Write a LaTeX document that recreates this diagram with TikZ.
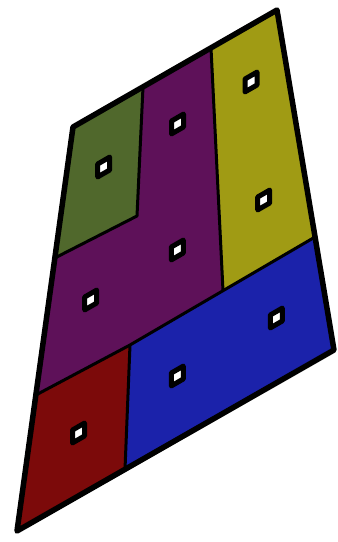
\documentclass[tikz,border=0pt]{standalone}
\definecolor{cgreen}{RGB}{80,104,44}
\definecolor{cpurple}{RGB}{94,17,89}
\definecolor{cyellow}{RGB}{160,155,20}
\definecolor{cblue}{RGB}{27,34,170}
\definecolor{cred}{RGB}{124,10,10}
\tikzset{
  region/.style={line width=3pt, line join=round, draw=black},
  border/.style={line width=5.5pt, line join=round, draw=black},
  marker/.style={line width=5pt, line join=round, draw=black, fill=white},
}
\newcommand{\mymarker}[1]{%
  \draw[marker] ($(#1)+(-6.0,-3.0)$) -- ($(#1)+(6.0,-9.9)$) -- ($(#1)+(6.0,3.0)$) -- ($(#1)+(-6.0,9.9)$) -- cycle;}
\usetikzlibrary{calc}
\begin{document}
\begin{tikzpicture}[x=1pt,y=-1pt]
\useasboundingbox (0,0) rectangle (338,542);
\coordinate (A) at (73,127);
\coordinate (B) at (277,10);
\coordinate (C) at (334,350);
\coordinate (D) at (17,531);
\coordinate (P1) at (143,87);
\coordinate (P2) at (137,216);
\coordinate (P3) at (54.8,258);
\coordinate (P4) at (211,48);
\coordinate (P5) at (223,290.7);
\coordinate (P6) at (315,237);
\coordinate (P7) at (130,345);
\coordinate (P8) at (35.9,395);
\coordinate (P9) at (125,469.3);
% regions
\fill[cgreen] (A) -- (P1) -- (P2) -- (P3) -- cycle;
\fill[cpurple] (P1) -- (P4) -- (P5) -- (P7) -- (P8) -- (P3) -- (P2) -- cycle;
\fill[cyellow] (P4) -- (B) -- (P6) -- (P5) -- cycle;
\fill[cblue] (P7) -- (P6) -- (C) -- (P9) -- cycle;
\fill[cred] (P8) -- (P7) -- (P9) -- (D) -- cycle;
% inner lines
\draw[region] (P1) -- (P2) -- (P3);
\draw[region] (P4) -- (P5);
\draw[region] (P8) -- (P7) -- (P6);
\draw[region] (P7) -- (P9);
% border
\draw[border] (A) -- (B) -- (C) -- (D) -- cycle;
% markers
\coordinate (m1) at (103.7,167);
\coordinate (m2) at (177.5,124);
\coordinate (m3) at (251,82);
\coordinate (m4) at (263.7,200);
\coordinate (m5) at (177.3,250);
\coordinate (m6) at (90.7,300);
\coordinate (m7) at (276.3,318);
\coordinate (m8) at (177.3,376);
\coordinate (m9) at (78.5,433);
\foreach \m in {m1,m2,m3,m4,m5,m6,m7,m8,m9} {\mymarker{\m}}
\end{tikzpicture}
\end{document}
